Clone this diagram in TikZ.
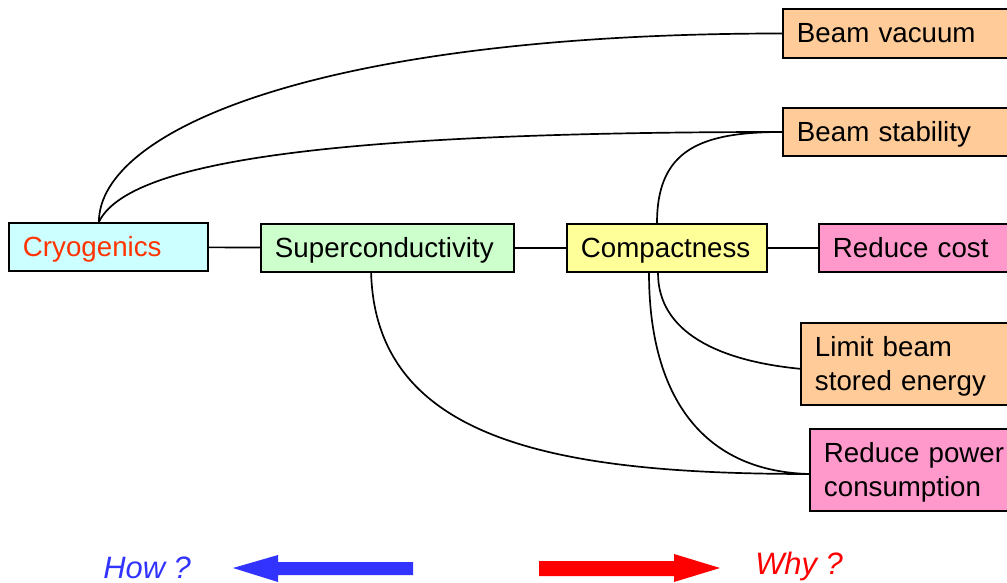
\documentclass[tikz,border=0pt]{standalone}
\usepackage{fontspec}
\setmainfont{Liberation Sans}
\usetikzlibrary{arrows,shapes}
\definecolor{cryofill}{RGB}{204,255,255}
\definecolor{cryotext}{RGB}{255,51,0}
\definecolor{scfill}{RGB}{204,255,204}
\definecolor{compfill}{RGB}{255,255,153}
\definecolor{pinkfill}{RGB}{255,153,204}
\definecolor{orangefill}{RGB}{255,204,153}
\definecolor{howblue}{RGB}{51,51,255}
\definecolor{whyred}{RGB}{255,0,0}
\newcommand\boxstrut{\rule[-5pt]{0pt}{23.5pt}}
\tikzstyle{goal}=[draw,line width=1.4pt,anchor=north west,align=left,inner xsep=0.35cm,inner ysep=0pt,font=\fontsize{19.7}{23.5}\selectfont,execute at begin node=\boxstrut,execute at end node=\boxstrut]
\tikzstyle{edge} = [draw,line width=1.2pt]
\tikzstyle{question} = [anchor=base west,inner sep=0pt,font=\fontsize{22}{26}\selectfont\itshape]

\begin{document}
\begin{tikzpicture}[x=0.025cm, y=-0.025cm]

    \useasboundingbox (0,0) rectangle (1007,583);
    \clip (0,0) rectangle (1007,583);

     \foreach \x/\y/\tw/\h/\col/\name/\txt in {8/222/4.275/1.2/cryofill/cryo/{\color{cryotext}Cryogenics},
        260/223/5.625/1.2/scfill/sc/Superconductivity, 566/223/4.3/1.2/compfill/comp/Compactness,
        818/223/4.1/1.2/pinkfill/cost/Reduce cost, 782/8/5.0/1.225/orangefill/bv/Beam vacuum,
        782/107/5.0/1.2/orangefill/bs/Beam stability, 800/322/4.55/2.05/orangefill/limit/{Limit beam\\stored energy},
        809/428/4.8/2.05/pinkfill/power/{Reduce power\\consumption}}
        \node[goal, fill=\col, text width=\tw cm, minimum height=\h cm] (\name) at (\x,\y) {\txt};


    \foreach \source/ \dest in {cryo/sc, sc/comp, comp/cost}
        \path[edge] (\source) -- (\dest);

    \path[edge] ([xshift=-0.24cm]cryo.north) .. controls +(0,-92) and +(-462,0) .. (bv.west);
    \path[edge] ([xshift=-0.24cm]cryo.north) .. controls +(28,-58) and +(-470,0) .. (bs.west);
    \path[edge] ([xshift=-0.25cm]comp.north) .. controls +(0,-73) and +(-82,0) .. (bs.west);

    \path[edge] ([xshift=-0.225cm]comp.south) .. controls +(0,59) and +(-82,-8) .. ([yshift=-0.12cm]limit.west);
    \path[edge] ([xshift=-0.45cm]comp.south) .. controls +(0,119) and +(-110,-3) .. ([yshift=-0.1cm]power.west);
    \path[edge] ([xshift=-0.41cm]sc.south) .. controls +(5,169) and +(-250,0) .. ([yshift=-0.1cm]power.west);

    \node[question, text=howblue] (how) at (103,578) {How ?};
    \node[question, text=whyred] (why) at (755,574) {Why ?};

    \fill[howblue] (233,568) -- (278,555) -- (278,562) -- (413,562) -- (413,575) -- (278,575) -- (278,582) -- cycle;
    \fill[whyred] (720,568) -- (674,554) -- (674,561) -- (539,561) -- (539,576) -- (674,576) -- (674,582) -- cycle;

   \end{tikzpicture}
\end{document}
